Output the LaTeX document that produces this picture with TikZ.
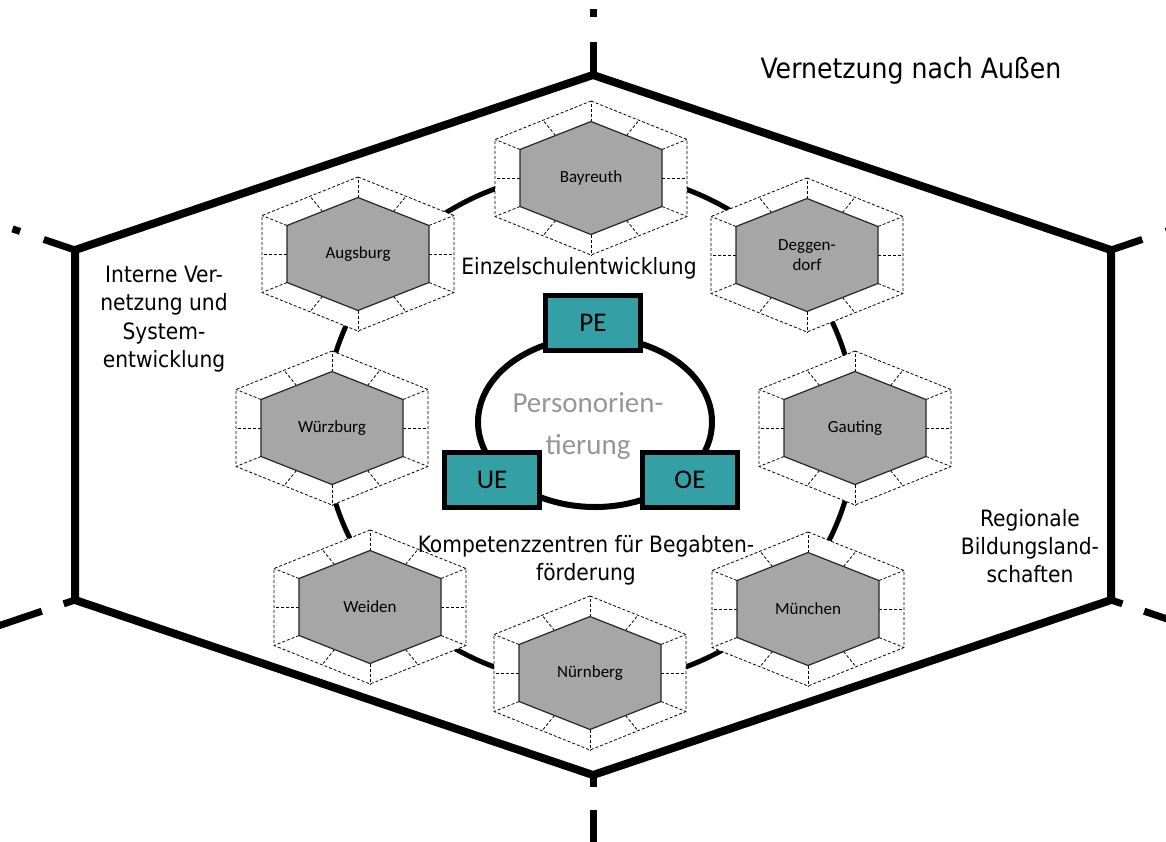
\documentclass[tikz,border=0pt]{standalone}
\usepackage{fontspec}
\setmainfont{DejaVu Sans Condensed}
\newfontfamily\calibrifont{Carlito}
\usetikzlibrary{calc}
\definecolor{tealbox}{RGB}{52,160,166}
\definecolor{hexgray}{RGB}{166,166,166}
\definecolor{txtgray}{RGB}{150,150,150}
\newcommand\cityhex[4]{%
  \begin{scope}[shift={(#2,#3)}]
    \path[hexout] (0,-77) -- (96,-38.5) -- (96,38.5) -- (0,77) -- (-96,38.5) -- (-96,-38.5) -- cycle;
    \foreach \ax/\ay/\bx/\by in {0/-56.5/0/-77, 71/-28.5/96/-38.5, 71/28.5/96/38.5, 0/56.5/0/77, -71/28.5/-96/38.5, -71/-28.5/-96/-38.5,
      35.5/-42.5/48/-57.75, 71/0/96/0, 35.5/42.5/48/57.75, -35.5/42.5/-48/57.75, -71/0/-96/0, -35.5/-42.5/-48/-57.75}
      {\draw[divider] (\ax,\ay) -- (\bx,\by);}
    \path[hexin] (0,-56.5) -- (71,-28.5) -- (71,28.5) -- (0,56.5) -- (-71,28.5) -- (-71,-28.5) -- cycle;
    \node[citylbl] (#1) at (0,0) {#4};
  \end{scope}}
\begin{document}
\begin{tikzpicture}[x=1pt,y=-1pt,
  bigline/.style={line width=8pt, line join=miter},
  ray/.style={line width=7pt},
  ringline/.style={line width=5pt},
  box/.style={draw, line width=5pt, fill=tealbox, minimum width=95pt, minimum height=55pt, font=\calibrifont\fontsize{27}{30}\selectfont, inner sep=0pt},
  lbl/.style={font=\fontsize{22.5}{28.3}\selectfont, align=center, inner sep=0pt},
  citylbl/.style={font=\calibrifont\fontsize{17}{20}\selectfont, align=center, inner sep=0pt},
  hexin/.style={draw=black!85, line width=1.2pt, fill=hexgray},
  hexout/.style={draw, line width=0.8pt, dash pattern=on 3pt off 2pt, fill=white},
  divider/.style={line width=0.8pt, dash pattern=on 3pt off 2pt},
]
\useasboundingbox (0,0) rectangle (1166,841);
\clip (0,0) rectangle (1166,841);
\coordinate (C) at (593,425);
\coordinate (VT) at (593,75);
\coordinate (VUR) at (1111,250);
\coordinate (VLR) at (1111,600);
\coordinate (VB) at (593,775);
\coordinate (VLL) at (75,600);
\coordinate (VUL) at (75,250);
% rays
\foreach \v in {VT,VUR,VUL}
  \draw[ray, dash pattern=on 33pt off 25pt on 8pt off 400pt] (\v) -- ($(C)!1.45!(\v)$);
\foreach \v in {VB,VLR,VLL}
  \draw[ray, dash pattern=on 12pt off 23pt on 400pt] (\v) -- ($(C)!1.45!(\v)$);
% big hexagon
\draw[bigline] (VT) -- (VUR) -- (VLR) -- (VB) -- (VLL) -- (VUL) -- cycle;
% ring
\draw[ringline] (590,428) ellipse [x radius=266, y radius=256];
% cities
\cityhex{bay}{591}{178}{Bayreuth}
\cityhex{deg}{807}{255}{Deggen-\\dorf}
\cityhex{gau}{855}{428}{Gauting}
\cityhex{mue}{808}{609}{München}
\cityhex{nue}{590}{673}{Nürnberg}
\cityhex{wei}{370}{607}{Weiden}
\cityhex{wue}{332}{428}{Würzburg}
\cityhex{aug}{358}{254}{Augsburg}
% centre
\draw[line width=6pt] (595,422) ellipse [x radius=117, y radius=85];
\node[font=\calibrifont\fontsize{29}{42}\selectfont, text=txtgray, align=center, inner sep=0pt] (pers) at (588,426) {Personorien-\\tierung};
\node[box] (PE) at (593,323) {PE};
\node[box] (UE) at (492,480) {UE};
\node[box] (OE) at (690,480) {OE};
% labels
\node[lbl, font=\fontsize{28}{34}\selectfont] (aussen) at (911,71) {Vernetzung nach Außen};
\node[lbl] (intern) at (164,319) {Interne Ver-\\netzung und\\System-\\entwicklung};
\node[lbl] (einzel) at (579,268) {Einzelschulentwicklung};
\node[lbl] (kompetenz) at (586,560) {Kompetenzzentren für Begabten-\\förderung};
\node[lbl] (regional) at (1030,546) {Regionale\\Bildungsland-\\schaften};
\end{tikzpicture}
\end{document}
